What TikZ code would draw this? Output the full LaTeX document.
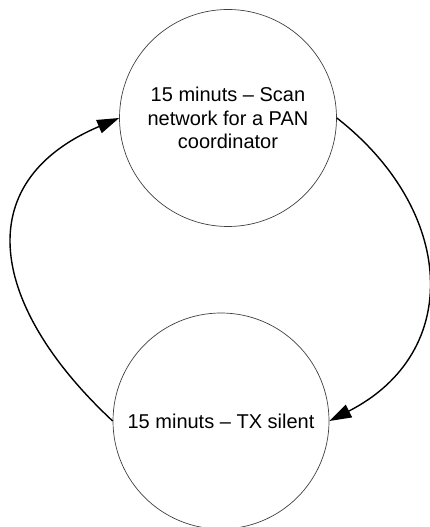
\documentclass[tikz,border=0pt]{standalone}
\usepackage{fontspec}
\setmainfont{Liberation Sans}
\usetikzlibrary{arrows.meta}
\begin{document}
\begin{tikzpicture}[x=1pt,y=1pt,
  state/.style={circle,draw=black!75,line width=0.7pt,minimum size=217pt,inner sep=0pt,
    align=center,font=\fontsize{20pt}{23.5pt}\selectfont},
  flow/.style={line width=1.4pt,-{Triangle[length=22pt,width=14pt]}}]
\useasboundingbox (0,0) rectangle (430,527);
\node[state] (top) at (228,409) {15 minuts -- Scan\\network for a PAN\\coordinator};
\node[state,minimum size=216pt] (bot) at (221,106) {15 minuts -- TX silent};
\draw[flow] (top.east) to[out=-38,in=27,looseness=1.27] (bot.east);
\draw[flow] (bot.west) to[out=137,in=203,looseness=1.4] (top.west);
\end{tikzpicture}
\end{document}
